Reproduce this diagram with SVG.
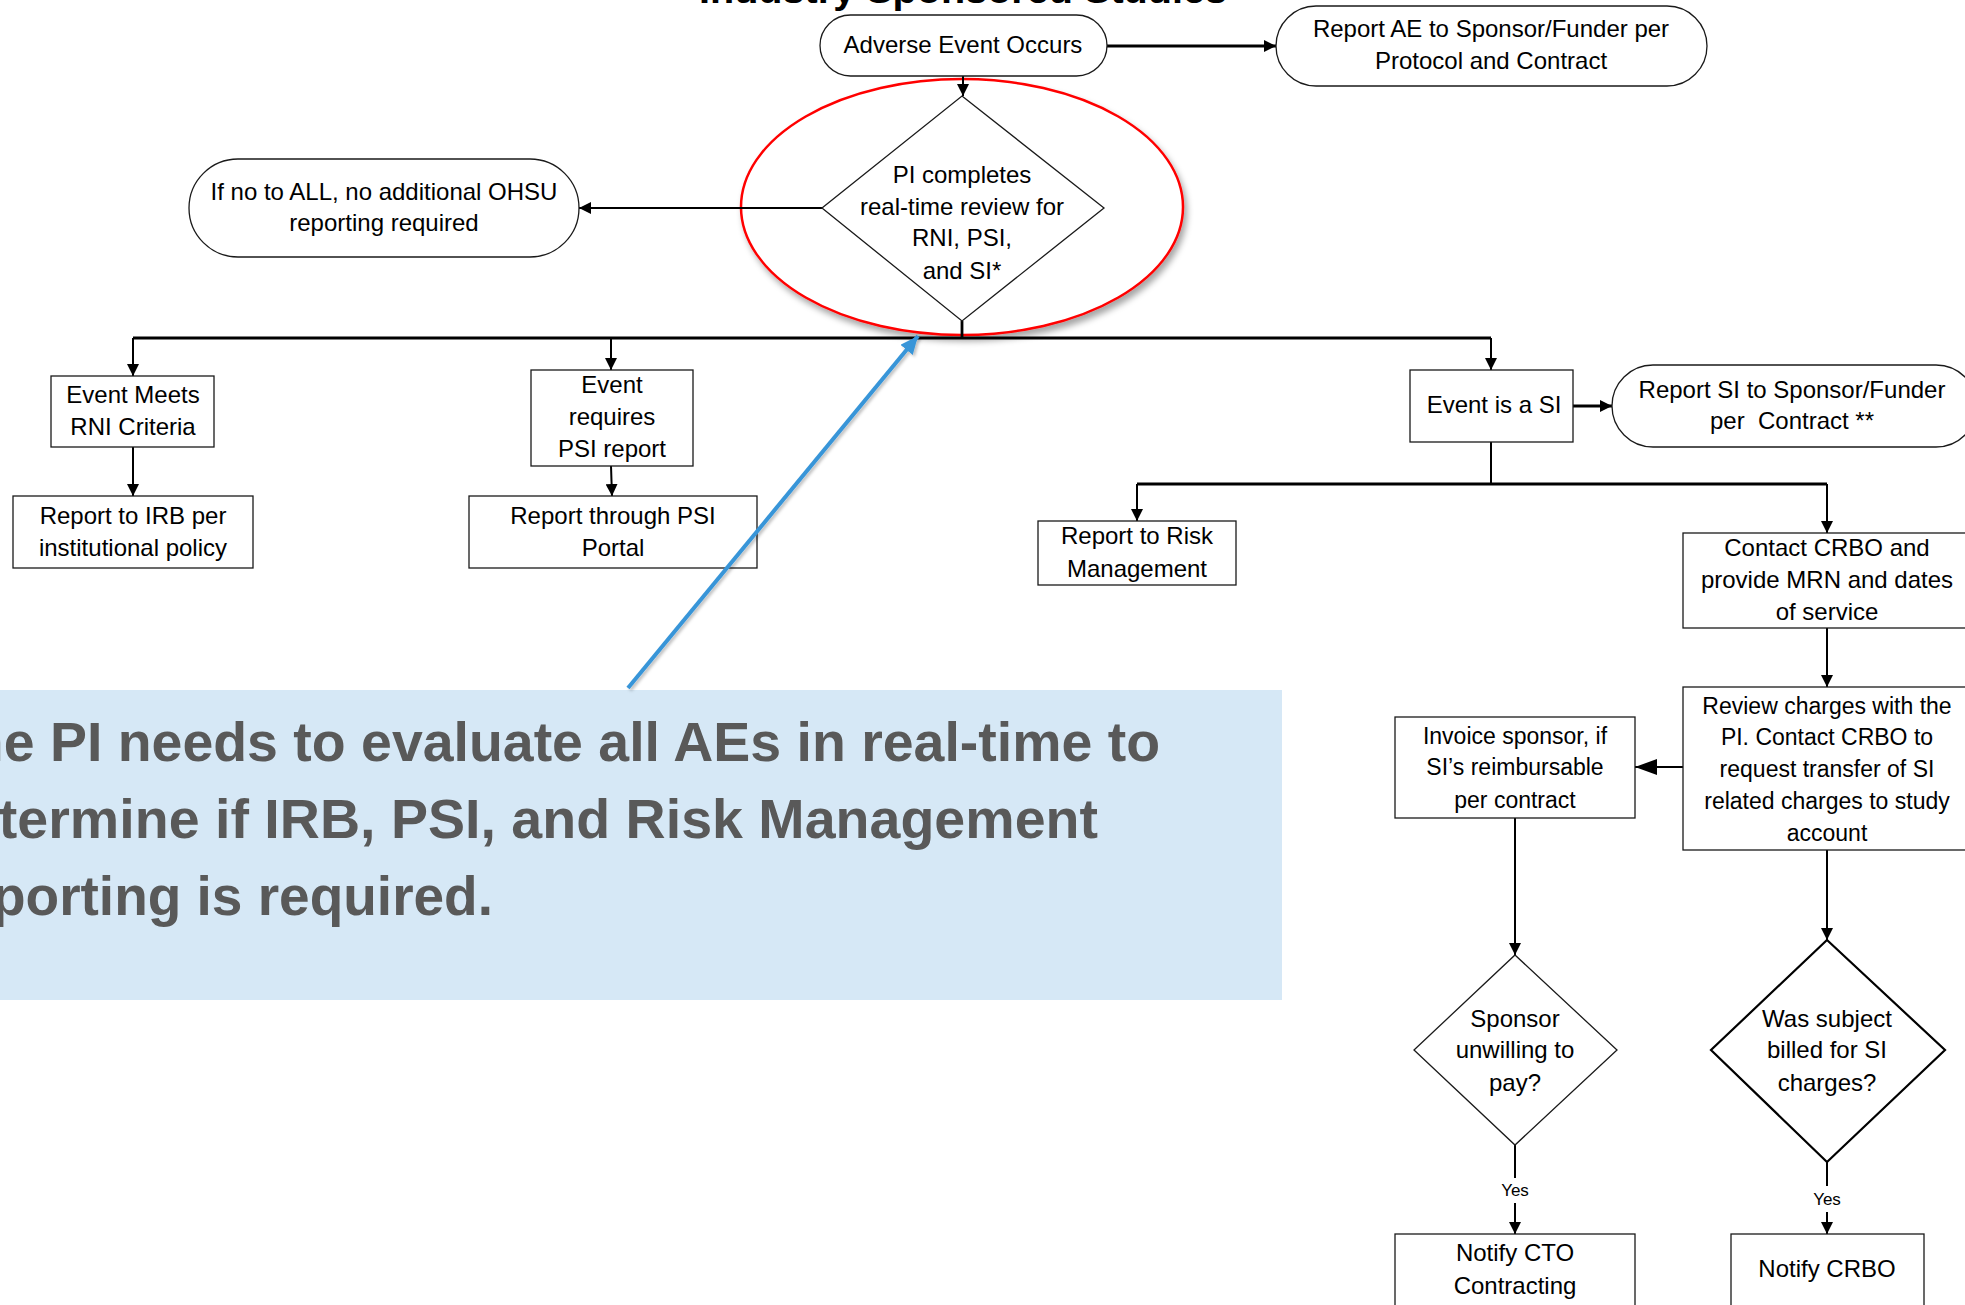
<svg xmlns="http://www.w3.org/2000/svg" width="1965" height="1305" viewBox="0 0 1965 1305">
  <style>
    .box { fill: #ffffff; stroke: #1a1a1a; stroke-width: 1.3; }
    .dia2 { fill: #ffffff; stroke: #000000; stroke-width: 2.2; }
    .lbl { font-family: "Liberation Sans", Arial, sans-serif; font-size: 24px; fill: #000000; text-anchor: middle; }
    .sm { font-size: 23px; }
    .yes { font-family: "Liberation Sans", Arial, sans-serif; font-size: 17px; fill: #000000; text-anchor: middle; }
    .conn { fill: none; stroke: #000000; stroke-width: 2; }
    .thick { stroke-width: 2.8; }
    .note { font-family: "Liberation Sans", Arial, sans-serif; font-weight: bold; font-size: 55px; fill: #595959; }
    .title { font-family: "Liberation Sans", Arial, sans-serif; font-weight: bold; font-size: 36px; fill: #000000; text-anchor: middle; }
  </style>
  <defs>
    <marker id="arr" markerUnits="userSpaceOnUse" markerWidth="14" markerHeight="12" refX="12" refY="6" orient="auto">
      <path d="M0,0 L12,6 L0,12 Z" fill="#000000"/>
    </marker>
    <marker id="arrBig" markerUnits="userSpaceOnUse" markerWidth="24" markerHeight="18" refX="22" refY="8" orient="auto">
      <path d="M0,0 L22,8 L0,16 Z" fill="#000000"/>
    </marker>
    <marker id="arrBlue" markerUnits="userSpaceOnUse" markerWidth="20" markerHeight="18" refX="18" refY="8" orient="auto">
      <path d="M0,0 L18,8 L0,16 Z" fill="#3795D8"/>
    </marker>
    <filter id="shadow" x="-10%" y="-10%" width="125%" height="130%">
      <feDropShadow dx="3" dy="5" stdDeviation="3" flood-color="#000000" flood-opacity="0.35"/>
    </filter>
    <filter id="shadowSoft" x="-10%" y="-10%" width="130%" height="130%">
      <feDropShadow dx="2" dy="2" stdDeviation="1.5" flood-color="#000000" flood-opacity="0.25"/>
    </filter>
  </defs>

  <rect x="0" y="0" width="1965" height="1305" fill="#ffffff"/>

  <!-- page heading, mostly above the top edge -->
  <text class="title" x="963" y="3" textLength="528" lengthAdjust="spacingAndGlyphs">Industry Sponsored Studies</text>

  <!-- highlight ring around the review decision -->
  <g id="highlight">
    <ellipse cx="962" cy="207" rx="221" ry="128" fill="#ffffff" stroke="#FF0000" stroke-width="2.5" filter="url(#shadow)"/>
  </g>

  <!-- connectors -->
  <g id="connectors">
    <path class="conn thick" d="M1107,46 H1276" marker-end="url(#arr)"/>
    <path class="conn" d="M963,76 V96" marker-end="url(#arr)"/>
    <path class="conn" d="M822,208 H579" marker-end="url(#arr)"/>
    <path class="conn thick" d="M962,321 V338"/>
    <path class="conn thick" d="M133,338 H1491"/>
    <path class="conn" d="M133,338 V376" marker-end="url(#arr)"/>
    <path class="conn" d="M611,338 V370" marker-end="url(#arr)"/>
    <path class="conn" d="M1491,338 V370" marker-end="url(#arr)"/>
    <path class="conn" d="M133,447 V496" marker-end="url(#arr)"/>
    <path class="conn" d="M611,466 L612,496" marker-end="url(#arr)"/>
    <path class="conn thick" d="M1573,406 H1612" marker-end="url(#arr)"/>
    <path class="conn" d="M1491,442 V484"/>
    <path class="conn thick" d="M1137,484 H1827"/>
    <path class="conn" d="M1137,484 V521" marker-end="url(#arr)"/>
    <path class="conn" d="M1827,484 V533" marker-end="url(#arr)"/>
    <path class="conn" d="M1827,628 V687" marker-end="url(#arr)"/>
    <path class="conn" d="M1683,767 H1635" marker-end="url(#arrBig)"/>
    <path class="conn" d="M1515,818 V955" marker-end="url(#arr)"/>
    <path class="conn" d="M1827,850 V940" marker-end="url(#arr)"/>
    <path class="conn" d="M1515,1145 V1178 M1515,1203 V1234" marker-end="url(#arr)"/>
    <text class="yes" x="1515" y="1196">Yes</text>
    <path class="conn" d="M1827,1162 V1186 M1827,1212 V1234" marker-end="url(#arr)"/>
    <text class="yes" x="1827" y="1205">Yes</text>
  </g>

  <g id="adverse-event">
    <rect class="box" x="820" y="15" width="287" height="61" rx="30.5"/>
    <text class="lbl" x="963" y="53">Adverse Event Occurs</text>
  </g>

  <g id="report-ae">
    <rect class="box" x="1276" y="6" width="431" height="80" rx="40"/>
    <text class="lbl" x="1491" y="37">Report AE to Sponsor/Funder per</text>
    <text class="lbl" x="1491" y="69">Protocol and Contract</text>
  </g>

  <g id="pi-review">
    <polygon class="box" points="962,96 1104,208 962,321 822,208"/>
    <text class="lbl" x="962" y="183">PI completes</text>
    <text class="lbl" x="962" y="215">real-time review for</text>
    <text class="lbl" x="962" y="246">RNI, PSI,</text>
    <text class="lbl" x="962" y="279">and SI*</text>
  </g>

  <g id="no-reporting">
    <rect class="box" x="189" y="159" width="390" height="98" rx="49"/>
    <text class="lbl" x="384" y="200">If no to ALL, no additional OHSU</text>
    <text class="lbl" x="384" y="231">reporting required</text>
  </g>

  <g id="rni-criteria">
    <rect class="box" x="51" y="376" width="163" height="71"/>
    <text class="lbl" x="133" y="403">Event Meets</text>
    <text class="lbl" x="133" y="435">RNI Criteria</text>
  </g>

  <g id="report-irb">
    <rect class="box" x="13" y="496" width="240" height="72"/>
    <text class="lbl" x="133" y="524">Report to IRB per</text>
    <text class="lbl" x="133" y="556">institutional policy</text>
  </g>

  <g id="psi-required">
    <rect class="box" x="531" y="370" width="162" height="96"/>
    <text class="lbl" x="612" y="393">Event</text>
    <text class="lbl" x="612" y="425">requires</text>
    <text class="lbl" x="612" y="457">PSI report</text>
  </g>

  <g id="psi-portal">
    <rect class="box" x="469" y="496" width="288" height="72"/>
    <text class="lbl" x="613" y="524">Report through PSI</text>
    <text class="lbl" x="613" y="556">Portal</text>
  </g>

  <g id="event-si">
    <rect class="box" x="1410" y="370" width="163" height="72"/>
    <text class="lbl" x="1494" y="413">Event is a SI</text>
  </g>

  <g id="report-si">
    <rect class="box" x="1612" y="365" width="365" height="82" rx="41"/>
    <text class="lbl" x="1792" y="398">Report SI to Sponsor/Funder</text>
    <text class="lbl" x="1792" y="429" xml:space="preserve">per  Contract **</text>
  </g>

  <g id="risk-management">
    <rect class="box" x="1038" y="521" width="198" height="64"/>
    <text class="lbl" x="1137" y="544">Report to Risk</text>
    <text class="lbl" x="1137" y="577">Management</text>
  </g>

  <g id="contact-crbo">
    <rect class="box" x="1683" y="533" width="292" height="95"/>
    <text class="lbl" x="1827" y="556">Contact CRBO and</text>
    <text class="lbl" x="1827" y="588">provide MRN and dates</text>
    <text class="lbl" x="1827" y="620">of service</text>
  </g>

  <g id="review-charges">
    <rect class="box" x="1683" y="687" width="292" height="163"/>
    <text class="lbl sm" x="1827" y="714">Review charges with the</text>
    <text class="lbl sm" x="1827" y="745">PI. Contact CRBO to</text>
    <text class="lbl sm" x="1827" y="777">request transfer of SI</text>
    <text class="lbl sm" x="1827" y="809">related charges to study</text>
    <text class="lbl sm" x="1827" y="841">account</text>
  </g>

  <g id="invoice-sponsor">
    <rect class="box" x="1395" y="717" width="240" height="101"/>
    <text class="lbl sm" x="1515" y="744">Invoice sponsor, if</text>
    <text class="lbl sm" x="1515" y="775">SI’s reimbursable</text>
    <text class="lbl sm" x="1515" y="808">per contract</text>
  </g>

  <g id="sponsor-unwilling">
    <polygon class="box" points="1515,955 1617,1050 1515,1145 1414,1050"/>
    <text class="lbl" x="1515" y="1027">Sponsor</text>
    <text class="lbl" x="1515" y="1058">unwilling to</text>
    <text class="lbl" x="1515" y="1091">pay?</text>
  </g>

  <g id="subject-billed">
    <polygon class="dia2" points="1827,940 1945,1050 1827,1162 1711,1050"/>
    <text class="lbl" x="1827" y="1027">Was subject</text>
    <text class="lbl" x="1827" y="1058">billed for SI</text>
    <text class="lbl" x="1827" y="1091">charges?</text>
  </g>

  <g id="notify-cto">
    <rect class="box" x="1395" y="1234" width="240" height="80"/>
    <text class="lbl" x="1515" y="1261">Notify CTO</text>
    <text class="lbl" x="1515" y="1294">Contracting</text>
  </g>

  <g id="notify-crbo">
    <rect class="box" x="1731" y="1234" width="193" height="80"/>
    <text class="lbl" x="1827" y="1277">Notify CRBO</text>
  </g>

  <!-- explanatory callout -->
  <g id="callout">
    <rect x="0" y="690" width="1282" height="310" fill="#D6E8F6"/>
    <text class="note" x="-64" y="761" textLength="1224" lengthAdjust="spacingAndGlyphs">The PI needs to evaluate all AEs in real-time to</text>
    <text class="note" x="-66" y="838" textLength="1164" lengthAdjust="spacingAndGlyphs">determine if IRB, PSI, and Risk Management</text>
    <text class="note" x="-60" y="915" textLength="553" lengthAdjust="spacingAndGlyphs">reporting is required.</text>
    <path d="M628,688 L918,336" fill="none" stroke="#3795D8" stroke-width="4" marker-end="url(#arrBlue)" filter="url(#shadowSoft)"/>
  </g>
</svg>
